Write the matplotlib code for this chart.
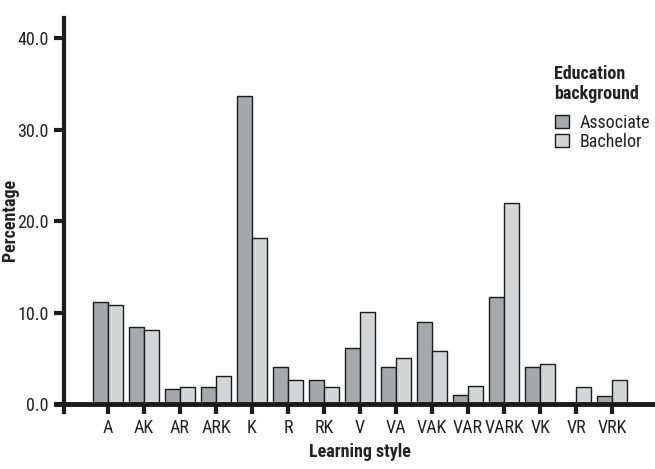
import matplotlib
matplotlib.use("Agg")
import matplotlib.pyplot as plt
from matplotlib.lines import Line2D
from matplotlib.patches import Patch
import matplotlib.font_manager as fm
import numpy as np

categories = ["A", "AK", "AR", "ARK", "K", "R", "RK", "V", "VA", "VAK", "VAR", "VARK", "VK", "VR", "VRK"]
associate = [11.2, 8.4, 1.6, 1.9, 33.7, 4.0, 2.6, 6.1, 4.0, 9.0, 1.0, 11.7, 4.0, 0.0, 0.9]
bachelor = [10.8, 8.1, 1.9, 3.1, 18.2, 2.6, 1.9, 10.1, 5.0, 5.8, 2.0, 22.0, 4.4, 1.9, 2.6]
yticks = [0, 10, 20, 30, 40]
series_names = ["Associate", "Bachelor"]
legend_title = "Education\nbackground"

names = {f.name for f in fm.fontManager.ttflist}
fam = "Roboto Condensed" if "Roboto Condensed" in names else "DejaVu Sans"
plt.rcParams["font.family"] = [fam, "DejaVu Sans"]

W, H = 655, 469
fig = plt.figure(figsize=(W / 100, H / 100), dpi=100)
AX_L, AX_B, AX_W, AX_H = 64, 65, W - 64, 404 - 18
ax = fig.add_axes([AX_L / W, AX_B / H, AX_W / W, AX_H / H])

x = np.arange(len(categories))
bw = 0.42
c_a = "#a6a8ab"
c_b = "#d4d5d7"
txtc = "#222222"
ax.bar(x - bw / 2, associate, bw, color=c_a, edgecolor="#1a1a1a", linewidth=1.0)
ax.bar(x + bw / 2, bachelor, bw, color=c_b, edgecolor="#1a1a1a", linewidth=1.0)

ax.set_xlim(-1.22, 15.19)
ax.set_ylim(0, 42.2)
ax.set_xticks(x)
ax.set_xticklabels(categories, fontsize=13, color=txtc)
ax.set_yticks(yticks)
ax.set_yticklabels([f"{v:.1f}" for v in yticks], fontsize=13, color=txtc)
ax.tick_params(axis="both", direction="out", length=7, width=3, color="#1a1a1a", pad=4)
for s in ["top", "right"]:
    ax.spines[s].set_visible(False)
ax.spines["left"].set_linewidth(3)
ax.spines["bottom"].set_linewidth(3.5)
ax.spines["left"].set_color("#1a1a1a")
ax.spines["bottom"].set_color("#1a1a1a")

# extend axis lines across each other (cross style)
ax.add_line(Line2D([0, 0], [-8 / AX_H, 0], transform=ax.transAxes, color="#1a1a1a", lw=3, clip_on=False))
ax.add_line(Line2D([-8 / AX_W, 0], [0, 0], transform=ax.transAxes, color="#1a1a1a", lw=3.5, clip_on=False))

ax.set_xlabel("Learning style", fontsize=13, fontweight="bold", color=txtc)
ax.xaxis.set_label_coords((360 - AX_L) / AX_W, -(443 - 404) / AX_H)
ax.set_ylabel("Percentage", fontsize=13, fontweight="bold", color=txtc)
ax.yaxis.set_label_coords(-(AX_L - 19) / AX_W, (404 - 220) / AX_H)

# legend title as separate text, entries as legend
fig.text(554 / W, 1 - 65 / H, legend_title, fontsize=13, fontweight="bold", color=txtc,
         ha="left", va="top", linespacing=1.15)
handles = [Patch(facecolor=c_a, edgecolor="#1a1a1a", linewidth=1.0),
           Patch(facecolor=c_b, edgecolor="#1a1a1a", linewidth=1.0)]
leg = fig.legend(handles, series_names, loc="upper left",
                 bbox_to_anchor=(555 / W, 1 - 114 / H),
                 frameon=False, fontsize=13,
                 handlelength=0.75, handleheight=0.75, handletextpad=0.6, labelspacing=0.05,
                 borderaxespad=0, borderpad=0)
for t in leg.get_texts():
    t.set_color(txtc)

fig.savefig("out.png", dpi=100)
